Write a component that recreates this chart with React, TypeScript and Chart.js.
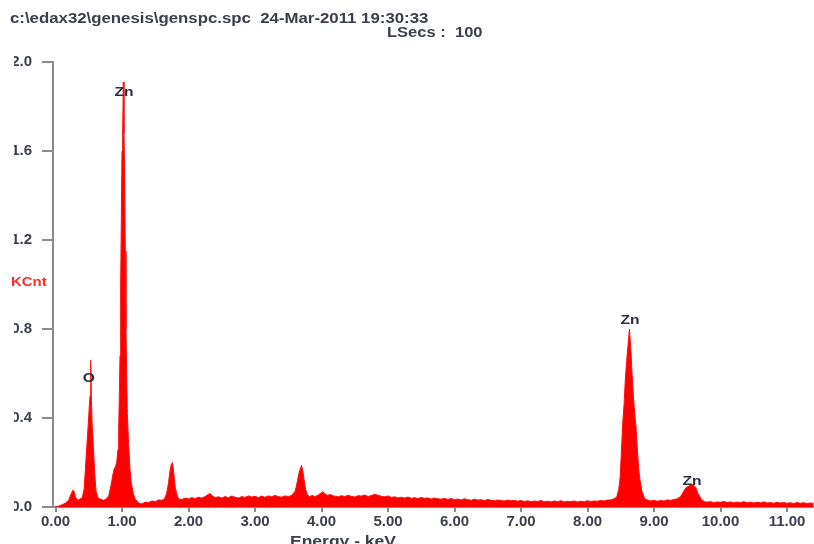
import React, { useEffect, useRef } from "react";
import { Chart, registerables } from "chart.js";

Chart.register(...registerables);

// ---- Spectrum data (energy in keV, counts in KCnt) ----
const lowEnergy = [
  0.0, 0.05, 0.1, 0.15, 0.2, 0.23, 0.26, 0.28, 0.3, 0.33,
  0.36, 0.4, 0.43, 0.45, 0.47, 0.49, 0.51, 0.52, 0.53, 0.54,
  0.55, 0.57, 0.59, 0.61, 0.64, 0.68, 0.72, 0.76, 0.8, 0.83,
  0.86, 0.88, 0.9, 0.92, 0.94, 0.95, 0.96, 0.97, 0.98, 0.99,
  1.0, 1.01, 1.02, 1.03, 1.04, 1.05, 1.06, 1.07, 1.08, 1.1,
  1.12, 1.14, 1.17, 1.2,
];
const lowCounts = [
  0.0, 0.004, 0.01, 0.018, 0.032, 0.055, 0.075, 0.07, 0.045, 0.03,
  0.035, 0.04, 0.08, 0.17, 0.27, 0.36, 0.46, 0.5, 0.66, 0.49,
  0.38, 0.27, 0.15, 0.07, 0.04, 0.035, 0.03, 0.035, 0.05, 0.09,
  0.14, 0.17, 0.18, 0.2, 0.26, 0.35, 0.5, 0.68, 1.0, 1.3,
  1.6, 1.69, 1.91, 1.68, 1.5, 1.15, 0.8, 0.6, 0.42, 0.28,
  0.17, 0.11, 0.06, 0.035,
];

const preSiEnergy = [1.25, 1.3, 1.35, 1.4, 1.45, 1.5, 1.55, 1.6, 1.64];
const preSiCounts = [0.018, 0.014, 0.022, 0.02, 0.027, 0.024, 0.032, 0.03, 0.037];

const siEnergy = [1.67, 1.7, 1.72, 1.74, 1.76, 1.78, 1.8, 1.83, 1.86];
const siCounts = [0.06, 0.11, 0.16, 0.19, 0.2, 0.15, 0.09, 0.05, 0.035];

const midEnergy = [
  1.9, 1.95, 2.0, 2.05, 2.1, 2.15, 2.2, 2.25, 2.3, 2.33,
  2.36, 2.4, 2.45, 2.5, 2.55, 2.6, 2.65, 2.7, 2.75, 2.8,
  2.85, 2.9, 2.95, 3.0, 3.05, 3.1, 3.15, 3.2, 3.25, 3.3,
  3.35, 3.4, 3.45, 3.5, 3.55,
];
const midCounts = [
  0.034, 0.04, 0.037, 0.042, 0.038, 0.044, 0.04, 0.047, 0.057, 0.06,
  0.05, 0.042, 0.046, 0.04, 0.047, 0.042, 0.049, 0.044, 0.04, 0.047,
  0.043, 0.05, 0.045, 0.048, 0.042, 0.049, 0.044, 0.05, 0.046, 0.052,
  0.047, 0.044, 0.05, 0.047, 0.052,
];

const caEnergy = [
  3.6, 3.62, 3.64, 3.66, 3.68, 3.7, 3.72, 3.74, 3.76, 3.79,
  3.82, 3.86, 3.9, 3.94, 3.98, 4.02, 4.05, 4.09, 4.13, 4.18,
];
const caCounts = [
  0.07, 0.09, 0.12, 0.15, 0.17, 0.187, 0.16, 0.12, 0.08, 0.055,
  0.047, 0.052, 0.047, 0.052, 0.06, 0.068, 0.06, 0.052, 0.056, 0.05,
];

const plateauEnergy = [
  4.25, 4.3, 4.35, 4.4, 4.45, 4.5, 4.55, 4.6, 4.65, 4.7,
  4.75, 4.8, 4.85, 4.9, 4.95, 5.0, 5.05, 5.1, 5.15, 5.2,
  5.25, 5.3, 5.35, 5.4, 5.45, 5.5, 5.55, 5.6, 5.65, 5.7,
  5.75, 5.8, 5.85, 5.9, 5.95, 6.0, 6.05, 6.1, 6.15, 6.2,
  6.25, 6.3, 6.35, 6.4, 6.45, 6.5, 6.55, 6.6, 6.65, 6.7,
  6.75, 6.8, 6.85, 6.9, 6.95, 7.0, 7.05, 7.1, 7.15, 7.2,
  7.25, 7.3, 7.35, 7.4, 7.45, 7.5, 7.55, 7.6, 7.65, 7.7,
  7.75, 7.8, 7.85, 7.9, 7.95, 8.0, 8.05, 8.1, 8.15, 8.2,
  8.25, 8.3, 8.35,
];
const plateauCounts = [
  0.046, 0.051, 0.047, 0.053, 0.048, 0.045, 0.051, 0.049, 0.054, 0.047,
  0.052, 0.057, 0.053, 0.048, 0.046, 0.05, 0.043, 0.046, 0.041, 0.044,
  0.04, 0.045, 0.039, 0.042, 0.038, 0.043, 0.039, 0.041, 0.036, 0.04,
  0.037, 0.035, 0.039, 0.034, 0.038, 0.033, 0.036, 0.032, 0.037, 0.033,
  0.03, 0.035, 0.031, 0.033, 0.029, 0.034, 0.03, 0.028, 0.032, 0.029,
  0.027, 0.031, 0.028, 0.03, 0.026, 0.029, 0.025, 0.028, 0.024, 0.027,
  0.025, 0.029, 0.024, 0.026, 0.023, 0.027, 0.024, 0.028, 0.023, 0.026,
  0.024, 0.027, 0.023, 0.026, 0.024, 0.028, 0.025, 0.027, 0.026, 0.029,
  0.027, 0.031, 0.032,
];

const znKaEnergy = [
  8.4, 8.44, 8.47, 8.49, 8.51, 8.53, 8.55, 8.57, 8.59, 8.61,
  8.63, 8.65, 8.67, 8.69, 8.71, 8.73, 8.75, 8.77, 8.79, 8.82,
  8.86, 8.9,
];
const znKaCounts = [
  0.037, 0.045, 0.08, 0.13, 0.25, 0.38, 0.46, 0.58, 0.66, 0.73,
  0.8, 0.72, 0.6, 0.5, 0.42, 0.36, 0.26, 0.17, 0.12, 0.07,
  0.037, 0.032,
];

const gapEnergy = [8.95, 9.0, 9.05, 9.1, 9.15, 9.2, 9.25, 9.3, 9.35];
const gapCounts = [0.027, 0.03, 0.026, 0.029, 0.027, 0.032, 0.03, 0.034, 0.037];

const znKbEnergy = [9.4, 9.42, 9.45, 9.48, 9.51, 9.54, 9.57, 9.6, 9.63, 9.66, 9.69, 9.72, 9.76];
const znKbCounts = [0.047, 0.057, 0.072, 0.087, 0.092, 0.097, 0.102, 0.097, 0.087, 0.062, 0.047, 0.032, 0.024];

const tailEnergy = [
  9.8, 9.85, 9.9, 9.95, 10.0, 10.05, 10.1, 10.15, 10.2, 10.25,
  10.3, 10.35, 10.4, 10.45, 10.5, 10.55, 10.6, 10.65, 10.7, 10.75,
  10.8, 10.85, 10.9, 10.95, 11.0, 11.05, 11.1, 11.15, 11.2, 11.25,
  11.3, 11.35, 11.4,
];
const tailCounts = [
  0.022, 0.024, 0.02, 0.023, 0.021, 0.025, 0.02, 0.023, 0.019, 0.022,
  0.02, 0.024, 0.019, 0.022, 0.018, 0.021, 0.019, 0.023, 0.018, 0.02,
  0.017, 0.021, 0.018, 0.02, 0.017, 0.019, 0.016, 0.02, 0.017, 0.019,
  0.016, 0.018, 0.017,
];

const energies = [
  ...lowEnergy, ...preSiEnergy, ...siEnergy, ...midEnergy, ...caEnergy,
  ...plateauEnergy, ...znKaEnergy, ...gapEnergy, ...znKbEnergy, ...tailEnergy,
];
const counts = [
  ...lowCounts, ...preSiCounts, ...siCounts, ...midCounts, ...caCounts,
  ...plateauCounts, ...znKaCounts, ...gapCounts, ...znKbCounts, ...tailCounts,
];

// Peak labels (element, energy keV, KCnt level of the label centre)
const peakLabelText = ["Zn", "O", "Zn", "Zn"];
const peakLabelEnergy = [1.03, 0.5, 8.64, 9.57];
const peakLabelLevel = [1.864, 0.578, 0.839, 0.115];

const headerText = "c:\\edax32\\genesis\\genspc.spc  24-Mar-2011 19:30:33";
const liveTimeText = "LSecs :  100";
const yTitle = "KCnt";
const xTitle = "Energy - keV";

const OFFSET = 11; // canvas starts 11px left of the page
const CROP = 14; // the reference is blanked left of this page x
const FONT = "'Liberation Sans', Arial, sans-serif";
const TEXT_COLOR = "#3a3f4b";
const AXIS_COLOR = "#8c8c8c";

export default function App() {
  const ref = useRef<HTMLCanvasElement>(null);

  useEffect(() => {
    const canvas = ref.current;
    if (!canvas) return;

    const drawText = (
      ctx: CanvasRenderingContext2D,
      text: string,
      x: number,
      y: number,
      size: number,
      color: string,
      align: CanvasTextAlign,
      baseline: CanvasTextBaseline,
      sx: number
    ) => {
      ctx.save();
      ctx.translate(x, y);
      ctx.scale(sx, 1);
      ctx.font = `bold ${size}px ${FONT}`;
      ctx.fillStyle = color;
      ctx.textAlign = align;
      ctx.textBaseline = baseline;
      ctx.fillText(text, 0, 0);
      ctx.restore();
    };

    const textPlugin = {
      id: "edaxText",
      afterDraw(chart: any) {
        const ctx = chart.ctx as CanvasRenderingContext2D;
        const xs = chart.scales.x;
        const ys = chart.scales.y;
        ctx.save();
        ctx.fillStyle = "#ffffff";
        ctx.fillRect(0, 0, OFFSET + CROP, chart.height);
        ctx.restore();
        drawText(ctx, headerText, 10 + OFFSET, 23, 14, TEXT_COLOR, "left", "alphabetic", 1.2);
        drawText(ctx, liveTimeText, 387 + OFFSET, 37, 14, TEXT_COLOR, "left", "alphabetic", 1.18);
        drawText(ctx, yTitle, 11 + OFFSET, 282, 13, "#ff2a2a", "left", "middle", 1.15);
        drawText(ctx, xTitle, 343 + OFFSET, 535, 14, TEXT_COLOR, "center", "top", 1.25);
        for (let i = 0; i < peakLabelText.length; i++) {
          const px = xs.getPixelForValue(peakLabelEnergy[i]);
          const py = ys.getPixelForValue(peakLabelLevel[i]);
          drawText(ctx, peakLabelText[i], px, py, 13, "#2b3040", "center", "middle", 1.2);
        }
      },
    };

    const tickFont = { family: FONT, size: 15, weight: "bold" as const };

    const chart = new Chart(canvas, {
      type: "line",
      data: {
        datasets: [
          {
            data: energies.map((e, i) => ({ x: e, y: counts[i] })),
            borderColor: "#ff1010",
            backgroundColor: "#ff0000",
            borderWidth: 1,
            pointRadius: 0,
            fill: "origin",
            tension: 0,
          },
        ],
      },
      options: {
        animation: false,
        responsive: false,
        devicePixelRatio: 1,
        layout: { padding: { top: 62, left: 0, right: 0, bottom: 0 } },
        plugins: { legend: { display: false }, tooltip: { enabled: false } },
        scales: {
          x: {
            type: "linear",
            min: -0.0376,
            max: 11.406,
            afterFit: (s: any) => {
              s.height = 37;
            },
            ticks: {
              stepSize: 1,
              includeBounds: false,
              autoSkip: false,
              maxRotation: 0,
              padding: 1,
              color: TEXT_COLOR,
              font: tickFont,
              callback: (v: any) => Number(v).toFixed(2),
            },
            grid: {
              display: true,
              drawOnChartArea: false,
              drawTicks: true,
              tickLength: 5,
              color: AXIS_COLOR,
              lineWidth: 2,
            },
            border: { display: true, color: AXIS_COLOR, width: 2 },
          },
          y: {
            type: "linear",
            min: 0,
            max: 2,
            afterFit: (s: any) => {
              s.width = 53 + OFFSET;
            },
            ticks: {
              stepSize: 0.4,
              includeBounds: false,
              padding: 10,
              color: TEXT_COLOR,
              font: tickFont,
              callback: (v: any) => Number(v).toFixed(1),
            },
            grid: {
              display: true,
              drawOnChartArea: false,
              drawTicks: true,
              tickLength: 11,
              color: AXIS_COLOR,
              lineWidth: 2,
            },
            border: { display: true, color: AXIS_COLOR, width: 2 },
          },
        },
      },
      plugins: [textPlugin],
    });

    return () => chart.destroy();
  }, []);

  return (
    <div style={{ position: "fixed", left: -OFFSET, top: 0, width: 814 + OFFSET, height: 544, background: "#ffffff" }}>
      <canvas ref={ref} width={814 + OFFSET} height={544} style={{ display: "block" }} />
    </div>
  );
}
